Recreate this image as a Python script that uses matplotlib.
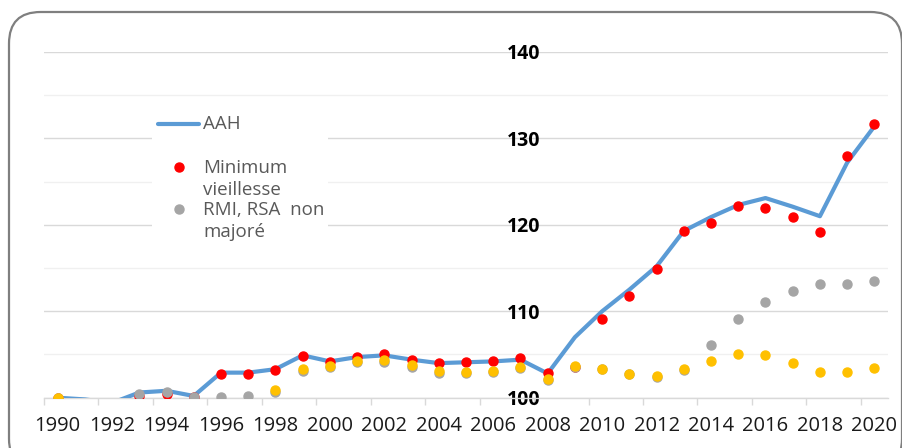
import numpy as np
import matplotlib
matplotlib.use("Agg")
import matplotlib.pyplot as plt
from matplotlib.patches import FancyBboxPatch, Rectangle
from matplotlib.lines import Line2D

plt.rcParams['font.family'] = ['Open Sans', 'DejaVu Sans']

years = np.arange(1990, 2021)

aah = [100.0, 99.8, 99.4, 100.6, 100.8, 100.2, 102.9, 102.9, 103.3, 104.9,
       104.2, 104.7, 104.9, 104.4, 104.0, 104.1, 104.2, 104.4, 102.8, 107.0,
       110.0, 112.5, 115.2, 119.3, 120.9, 122.3, 123.1, 122.1, 121.0, 127.2,
       131.4]

min_vieillesse = [100.0, np.nan, np.nan, 100.2, 100.4, 100.1, 102.8, 102.8, 103.2, 104.8,
                  104.1, 104.7, 105.0, 104.4, 104.0, 104.1, 104.3, 104.6, 102.9, 103.5,
                  109.1, 111.8, 114.9, 119.3, 120.2, 122.2, 121.9, 120.9, 119.2, 128.0,
                  131.7]

rmi_rsa = [100.0, np.nan, np.nan, 100.4, 100.7, 100.1, 100.1, 100.2, 100.7, 103.1,
           103.5, 104.1, 104.1, 103.5, 102.9, 102.9, 103.0, 103.4, 102.0, 103.6,
           103.3, 102.7, 102.4, 103.2, 106.1, 109.1, 111.1, 112.4, 113.1, 113.1,
           113.5]

rsa_majore = [100.0, np.nan, np.nan, np.nan, np.nan, np.nan, np.nan, np.nan, 100.9, 103.35,
              103.7, 104.25, 104.35, 103.8, 103.1, 103.0, 103.05, 103.5, 102.15, 103.7,
              103.35, 102.8, 102.5, 103.35, 104.25, 105.1, 104.95, 104.0, 103.0, 103.0,
              103.4]

y_ticks = [100, 110, 120, 130, 140]
x_ticks = list(range(1990, 2021, 2))

blue = '#5b9bd5'
red = '#ff0000'
grey = '#a5a5a5'
gold = '#ffc000'

fig = plt.figure(figsize=(9.03, 4.48), dpi=100)
ax = fig.add_axes([44 / 903, 1 - 397.7 / 448, 844 / 903, 345.7 / 448])

# cadre arrondi
frame = FancyBboxPatch((9 / 903, -0.05), 893 / 903, 0.05 + 436 / 448,
                       boxstyle="round,pad=0,rounding_size=0.035",
                       transform=fig.transFigure, facecolor='none',
                       edgecolor='#7f7f7f', linewidth=1.6, mutation_aspect=903 / 448)
fig.patches.append(frame)

ax.plot(years, aah, color=blue, linewidth=3.0, solid_joinstyle='round', zorder=3)
ax.plot(years, min_vieillesse, linestyle='none', marker='o', markersize=6.5,
        color=red, zorder=4)
ax.plot(years, rmi_rsa, linestyle='none', marker='o', markersize=6.5,
        color=grey, zorder=5)
ax.plot(years, rsa_majore, linestyle='none', marker='o', markersize=6.5,
        color=gold, zorder=6)

ax.set_xlim(1989.5, 2020.5)
ax.set_ylim(100, 140)

# l'axe vertical coupe au niveau de 2008 (à placer avant les ticks)
for s in ['top', 'right']:
    ax.spines[s].set_visible(False)
ax.spines['bottom'].set_color('#d9d9d9')
ax.spines['bottom'].set_linewidth(1.0)
ax.spines['left'].set_position(('data', 2007.9))
ax.spines['left'].set_visible(False)

ax.set_yticks(y_ticks, [str(v) for v in y_ticks], fontweight='bold', fontsize=14)
ax.set_yticks(np.arange(105, 140, 10), minor=True)
ax.tick_params(axis='y', which='both', length=0, pad=3)
ax.grid(axis='y', which='major', color='#d9d9d9', linewidth=1.0)
ax.grid(axis='y', which='minor', color='#f0f0f0', linewidth=1.0)
ax.set_axisbelow(True)

ax.set_xticks(x_ticks, [str(v) for v in x_ticks], fontsize=14.5, color='#1a1a1a')
ax.set_xticks(np.arange(1989.5, 2021, 2), minor=True)
ax.tick_params(axis='x', which='major', length=0, pad=13)
ax.tick_params(axis='x', which='minor', length=5, color='#d9d9d9', width=1)

# légende
ax.add_patch(Rectangle((108 / 844, 142 / 345.7), 176 / 844, 150 / 345.7,
                       transform=ax.transAxes, facecolor='white',
                       edgecolor='none', zorder=2))
leg_col = '#595959'
ax.add_line(Line2D([114 / 844, 155 / 844], [273.5 / 345.7] * 2, transform=ax.transAxes,
                   color=blue, linewidth=3.0, solid_capstyle='round', zorder=7))
ax.text(159 / 844, 273.5 / 345.7, 'AAH', transform=ax.transAxes, fontsize=13.5,
        color=leg_col, va='center', ha='left', zorder=7)
ax.add_line(Line2D([135 / 844], [230.7 / 345.7], transform=ax.transAxes, linestyle='none',
                   marker='o', markersize=6.5, color=red, zorder=7))
ax.text(159 / 844, 239 / 345.7, 'Minimum\nvieillesse', transform=ax.transAxes,
        fontsize=13.5, color=leg_col, va='top', ha='left', linespacing=1.3, zorder=7)
ax.add_line(Line2D([135 / 844], [188.7 / 345.7], transform=ax.transAxes, linestyle='none',
                   marker='o', markersize=6.5, color=grey, zorder=7))
ax.text(159 / 844, 197 / 345.7, 'RMI, RSA  non\nmajoré', transform=ax.transAxes,
        fontsize=13.5, color=leg_col, va='top', ha='left', linespacing=1.3, zorder=7)

fig.savefig('out.png', dpi=100)
